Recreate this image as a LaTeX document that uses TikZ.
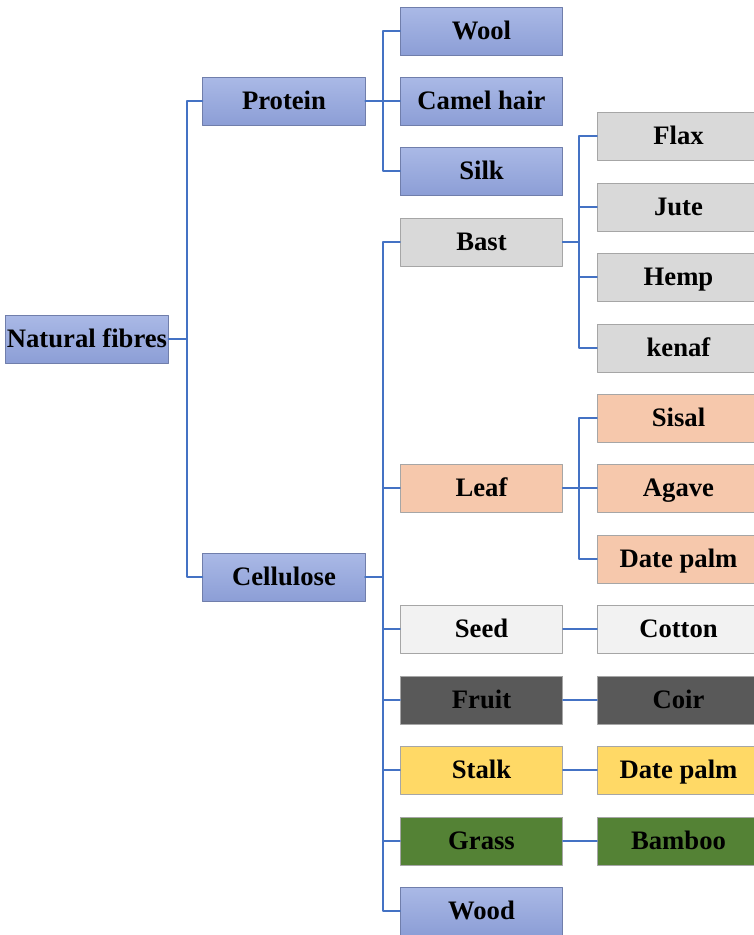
\documentclass[tikz,border=0pt]{standalone}
\usepackage{fontspec}
\setmainfont{Liberation Serif}
\usetikzlibrary{calc, positioning}
\definecolor{linkblue}{HTML}{4472C4}
\definecolor{bluetop}{HTML}{AAB9E6}
\definecolor{bluebot}{HTML}{8C9ED6}
\definecolor{greybox}{HTML}{D9D9D9}
\definecolor{peachbox}{HTML}{F6C8AC}
\definecolor{paperbox}{HTML}{F2F2F2}
\definecolor{darkbox}{HTML}{595959}
\definecolor{yellowbox}{HTML}{FFD966}
\definecolor{greenbox}{HTML}{548235}

\tikzset{
  fibre/.style={draw=black!35, line width=0.6pt, minimum width=122pt, minimum height=36pt,
    inner sep=0pt, text height=15pt, text depth=1.7pt,
    font=\fontsize{20}{24}\selectfont\bfseries},
  bluefibre/.style={fibre, draw=bluebot!80!black, top color=bluetop, bottom color=bluebot},
  greyfibre/.style={fibre, fill=greybox},
  peachfibre/.style={fibre, fill=peachbox},
  paperfibre/.style={fibre, fill=paperbox},
  darkfibre/.style={fibre, fill=darkbox},
  yellowfibre/.style={fibre, fill=yellowbox},
  greenfibre/.style={fibre, fill=greenbox},
  link/.style={draw=linkblue, line width=1.8pt}
}

\begin{document}
\begin{tikzpicture}[line cap=round,line join=round,x=0.75pt,y=-0.75pt]
\useasboundingbox (0,0) rectangle (753,935);

% level 1 and 2
\node[bluefibre] (nat) at (87,339) {Natural fibres};
\node[bluefibre] (prot) at (284,101) {Protein};
\node[bluefibre] (cell) at (284,577) {Cellulose};

% level 3
\node[bluefibre] (wool) at (481.5,31) {Wool};
\node[bluefibre] (camel) at (481.5,101) {Camel hair};
\node[bluefibre] (silk) at (481.5,171) {Silk};
\node[greyfibre] (bast) at (481.5,242) {Bast};
\node[peachfibre] (leaf) at (481.5,488) {Leaf};
\node[paperfibre] (seed) at (481.5,629) {Seed};
\node[darkfibre] (fruit) at (481.5,700) {Fruit};
\node[yellowfibre] (stalk) at (481.5,770) {Stalk};
\node[greenfibre] (grass) at (481.5,841) {Grass};
\node[bluefibre] (wood) at (481.5,911) {Wood};

% level 4
\node[greyfibre] (flax) at (678.5,136) {Flax};
\node[greyfibre] (jute) at (678.5,207) {Jute};
\node[greyfibre] (hemp) at (678.5,277) {Hemp};
\node[greyfibre] (kenaf) at (678.5,348) {kenaf};
\node[peachfibre] (sisal) at (678.5,418) {Sisal};
\node[peachfibre] (agave) at (678.5,488) {Agave};
\node[peachfibre] (datepalm) at (678.5,559) {Date palm};
\node[paperfibre] (cotton) at (678.5,629) {Cotton};
\node[darkfibre] (coir) at (678.5,700) {Coir};
\node[yellowfibre] (stalkpalm) at (678.5,770) {Date palm};
\node[greenfibre] (bamboo) at (678.5,841) {Bamboo};

% connectors
\foreach \kid in {prot, cell}
  \draw[link] (nat.east) -- ++(18,0) |- (\kid.west);
\foreach \kid in {wool, camel, silk}
  \draw[link] (prot.east) -- ++(17,0) |- (\kid.west);
\foreach \kid in {bast, leaf, seed, fruit, stalk, grass, wood}
  \draw[link] (cell.east) -- ++(17,0) |- (\kid.west);
\foreach \kid in {flax, jute, hemp, kenaf}
  \draw[link] (bast.east) -- ++(16,0) |- (\kid.west);
\foreach \kid in {sisal, agave, datepalm}
  \draw[link] (leaf.east) -- ++(16,0) |- (\kid.west);
\draw[link] (seed) -- (cotton);
\draw[link] (fruit) -- (coir);
\draw[link] (stalk) -- (stalkpalm);
\draw[link] (grass) -- (bamboo);
\end{tikzpicture}
\end{document}
